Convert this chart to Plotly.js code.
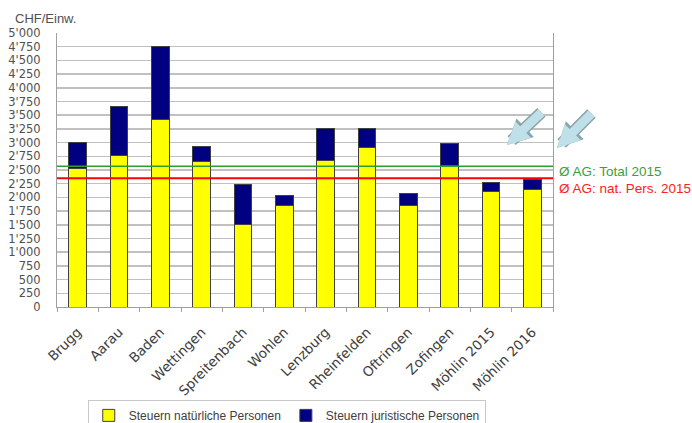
<!DOCTYPE html>
<html>
<head>
<meta charset="utf-8">
<script src="https://cdn.plot.ly/plotly-3.0.1.min.js"></script>
<style>html,body{margin:0;padding:0;background:#fff;}#chart{width:692px;height:423px;}</style>
</head>
<body>
<div id="chart"></div>
<script>
const categories = ["Brugg","Aarau","Baden","Wettingen","Spreitenbach","Wohlen","Lenzburg","Rheinfelden","Oftringen","Zofingen","Möhlin 2015","Möhlin 2016"];
const steuernNatuerlich = [2520, 2770, 3430, 2660, 1510, 1850, 2670, 2910, 1850, 2580, 2110, 2150];
const steuernJuristisch = [480, 880, 1320, 260, 720, 190, 580, 340, 220, 400, 160, 180];
const avgTotal2015 = 2570;
const avgNat2015 = 2350;
const seriesNames = ["Steuern natürliche Personen", "Steuern juristische Personen"];
const refLabels = ["Ø AG: Total 2015", "Ø AG: nat. Pers. 2015"];
const yUnit = "CHF/Einw.";

const font = "Liberation Sans, Arial, sans-serif";
const tickFont = "DejaVu Sans, Verdana, sans-serif";

const traces = [
  {type:"bar", x:categories, y:steuernNatuerlich, name:seriesNames[0],
   marker:{color:"#ffff00", line:{color:"#404040", width:1}}, width:0.43},
  {type:"bar", x:categories, y:steuernJuristisch, name:seriesNames[1],
   marker:{color:"#000080", line:{color:"#404040", width:1}}, width:0.43}
];

const arrowBase = {xref:"paper", yref:"paper", showarrow:true, arrowhead:2, standoff:0, text:""};

const layout = {
  width:692, height:423,
  margin:{l:57, r:139, t:33, b:116, autoexpand:false},
  paper_bgcolor:"#fff", plot_bgcolor:"#fff",
  barmode:"stack",
  separators:".'",
  font:{family:font, size:12, color:"#505050"},
  showlegend:true,
  legend:{orientation:"h", x:0.062, xanchor:"left", y:-0.339, yanchor:"top",
          bordercolor:"#c8c8c8", borderwidth:1, font:{size:12, color:"#404040"},
          itemwidth:30, traceorder:"normal"},
  xaxis:{type:"category", automargin:false, showgrid:false, showline:true, linecolor:"#a0a0a0", linewidth:1,
         ticks:"outside", tickson:"boundaries", ticklen:4, tickcolor:"#a0a0a0", ticklabelstandoff:11,
         tickangle:-45, tickfont:{family:tickFont, size:13.5, color:"#404040"}, mirror:false},
  yaxis:{range:[0,5000], dtick:250, tickformat:",d", automargin:false, showgrid:true, gridcolor:"#c0c0c0", gridwidth:1.5,
         showline:true, linecolor:"#a0a0a0", linewidth:1, ticks:"", ticklabelstandoff:13,
         tickfont:{family:tickFont, size:11.5, color:"#505050"}, zeroline:false, mirror:true},
  shapes:[
    {type:"line", xref:"paper", x0:0, x1:1, yref:"y", y0:avgTotal2015, y1:avgTotal2015, line:{color:"#2ca02c", width:1.5}},
    {type:"line", xref:"paper", x0:0, x1:1, yref:"y", y0:avgNat2015, y1:avgNat2015, line:{color:"#ff0000", width:2}}
  ],
  annotations:[
    {xref:"paper", x:1.008, xanchor:"left", yref:"y", y:avgTotal2015, yanchor:"top", yshift:4, text:refLabels[0], showarrow:false, font:{color:"#3aa03a", size:13.5}},
    {xref:"paper", x:1.008, xanchor:"left", yref:"y", y:avgNat2015, yanchor:"top", yshift:-1, text:refLabels[1], showarrow:false, font:{color:"#ff2020", size:13.5}},
    {xref:"paper", x:-0.089, xanchor:"left", yref:"paper", y:1, yanchor:"bottom", yshift:5, text:yUnit, showarrow:false, font:{color:"#505050", size:13}},
    Object.assign({}, arrowBase, {x:0.907, y:0.591, ax:36, ay:-34, arrowwidth:12, arrowsize:0.42, arrowcolor:"#8aa4aa"}),
    Object.assign({}, arrowBase, {x:0.907, y:0.591, ax:36, ay:-34, arrowwidth:9, arrowsize:0.5, arrowcolor:"#bfe0e8"}),
    Object.assign({}, arrowBase, {x:1.008, y:0.580, ax:36, ay:-36, arrowwidth:12, arrowsize:0.42, arrowcolor:"#8aa4aa"}),
    Object.assign({}, arrowBase, {x:1.008, y:0.580, ax:36, ay:-36, arrowwidth:9, arrowsize:0.5, arrowcolor:"#bfe0e8"})
  ]
};

Plotly.newPlot("chart", traces, layout, {displayModeBar:false, staticPlot:true});
</script>
</body>
</html>
